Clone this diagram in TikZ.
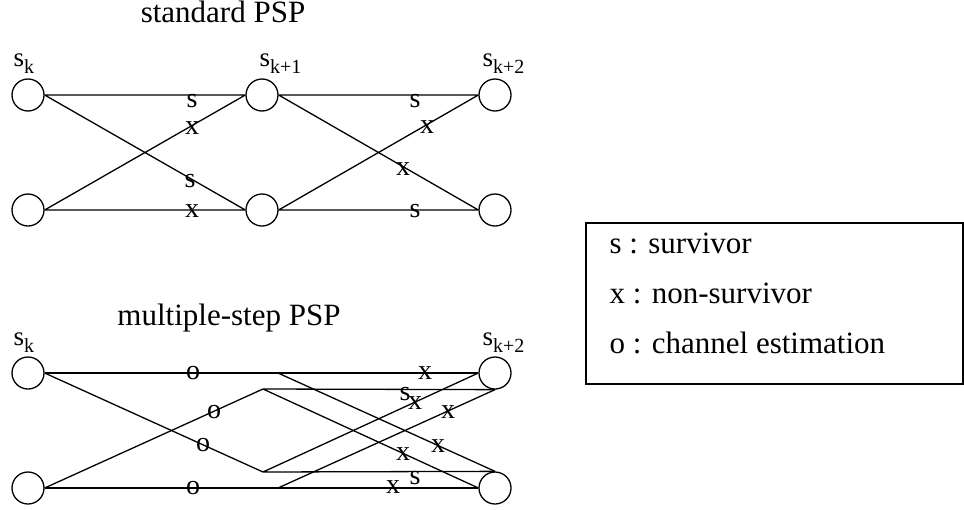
\documentclass[tikz,border=0pt]{standalone}
\usepackage{fontspec}
\setmainfont{Liberation Serif}
\newcommand{\stname}[1]{s\raisebox{-3.5pt}{\fontsize{10}{10}\selectfont #1}}

\begin{document}
\begin{tikzpicture}[x=0.5pt,y=-0.5pt,
  trnode/.style={circle,draw,minimum size=16pt,inner sep=0pt},
  edgelab/.style={inner sep=0pt,font=\fontsize{14}{14}\selectfont},
  headline/.style={anchor=base,inner sep=0pt,font=\fontsize{15.5}{15.5}\selectfont},
  stlab/.style={anchor=base west,inner sep=0pt,font=\fontsize{13.5}{13.5}\selectfont},
  legtext/.style={anchor=base west,inner sep=0pt,font=\fontsize{15.5}{15.5}\selectfont},
  every path/.style={line width=0.65pt}]
\useasboundingbox (0,0) rectangle (964,509);
% standard PSP
\node[headline] (hstd) at (223,22) {standard PSP};
\node[trnode] (a1) at (28,95) {};
\node[trnode] (a2) at (28,210) {};
\node[trnode] (b1) at (262,95) {};
\node[trnode] (b2) at (262,210) {};
\node[trnode] (c1) at (495,95) {};
\node[trnode] (c2) at (495,210) {};
\node[stlab] (na) at (13,66) {\stname{k}};
\node[stlab] (nb) at (259,66) {\stname{k+1}};
\node[stlab] (nc) at (482,66) {\stname{k+2}};
\draw (a1.east) -- (b1.west) (a1.east) -- (b2.west) (a2.east) -- (b1.west) (a2.east) -- (b2.west);
\draw (b1.east) -- (c1.west) (b1.east) -- (c2.west) (b2.east) -- (c1.west) (b2.east) -- (c2.west);
\node[edgelab] (u1) at (192,101) {s};
\node[edgelab] (u2) at (192,128) {x};
\node[edgelab] (u3) at (190,181) {s};
\node[edgelab] (u4) at (192,211) {x};
\node[edgelab] (u5) at (415,101) {s};
\node[edgelab] (u6) at (427,127) {x};
\node[edgelab] (u7) at (403,169) {x};
\node[edgelab] (u8) at (415,211) {s};
% multiple-step PSP
\node[headline] (hmul) at (229,325) {multiple-step PSP};
\node[trnode] (d1) at (28,373) {};
\node[trnode] (d2) at (28,488) {};
\node[trnode] (e1) at (495,373) {};
\node[trnode] (e2) at (495,488) {};
\node[stlab] (nd) at (13,345) {\stname{k}};
\node[stlab] (ne) at (482,345) {\stname{k+2}};
\coordinate (pa) at (278,373);
\coordinate (pb) at (263,389);
\coordinate (pc) at (263,472);
\coordinate (pd) at (278,488);
\draw (d1.east) -- (e1.west);
\draw (d2.east) -- (e2.west);
\draw (d1.east) -- (pc) -- (e2.north) (pc) -- (e1.west);
\draw (d2.east) -- (pb) -- (e1.south) (pb) -- (e2.west);
\draw (pa) -- (e2.north);
\draw (pd) -- (e1.south);
\node[edgelab] (v1) at (193,373) {o};
\node[edgelab] (v2) at (214,412) {o};
\node[edgelab] (v3) at (203,445) {o};
\node[edgelab] (v4) at (193,488) {o};
\node[edgelab] (w1) at (425,373) {x};
\node[edgelab] (w2) at (405,394) {s};
\node[edgelab] (w3) at (415,403) {x};
\node[edgelab] (w4) at (448,412) {x};
\node[edgelab] (w5) at (438,446) {x};
\node[edgelab] (w6) at (403,454) {x};
\node[edgelab] (w7) at (415,478) {s};
\node[edgelab] (w8) at (393,487) {x};
% legend
\node[draw,line width=0.75pt,anchor=north west,inner sep=0pt,minimum width=188.5pt,minimum height=80.5pt] (legend) at (585,222) {};
\node[legtext] (k1) at (609,253) {s : survivor};
\node[legtext] (k2) at (609,303) {x : non-survivor};
\node[legtext] (k3) at (609,353) {o : channel estimation};
\end{tikzpicture}
\end{document}
